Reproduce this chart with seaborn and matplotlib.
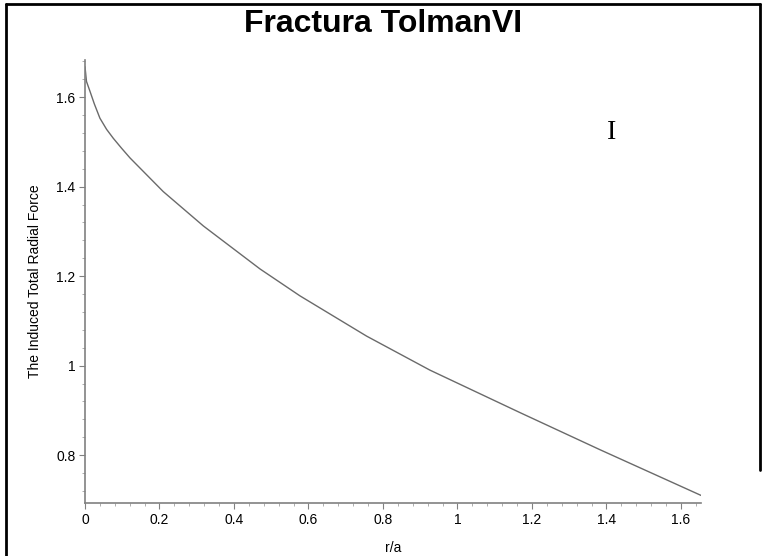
import matplotlib
matplotlib.use("Agg")
import matplotlib.pyplot as plt
import seaborn as sns
import pandas as pd
from matplotlib.ticker import MultipleLocator, FuncFormatter
from matplotlib.lines import Line2D

# Data
r_over_a = [0.0, 0.004, 0.0134, 0.025, 0.040, 0.058, 0.076, 0.098, 0.121, 0.21,
            0.318, 0.47, 0.577, 0.756, 0.926, 1.168, 1.383, 1.654]
force = [1.668, 1.635, 1.613, 1.585, 1.553, 1.528, 1.508, 1.486, 1.464, 1.389,
         1.312, 1.216, 1.156, 1.066, 0.990, 0.895, 0.812, 0.710]
x_ticks = [0, 0.2, 0.4, 0.6, 0.8, 1.0, 1.2, 1.4, 1.6]
y_ticks = [0.8, 1.0, 1.2, 1.4, 1.6]
title = "Fractura TolmanVI"
xlabel = "r/a"
ylabel = "The Induced Total Radial Force"
annotation = "I"

df = pd.DataFrame({"r/a": r_over_a, "force": force})

sns.set_theme(style="white")
plt.rcParams["font.family"] = ["Liberation Sans", "DejaVu Sans"]
plt.rcParams["text.color"] = "black"
plt.rcParams["axes.labelcolor"] = "black"

fig = plt.figure(figsize=(7.67, 5.56), dpi=100)
ax = fig.add_axes([85 / 767, 1 - 503 / 556, (701 - 85) / 767, (503 - 60) / 556])

sns.lineplot(data=df, x="r/a", y="force", ax=ax, color="#6a6a6a", linewidth=1.0)

ax.set_xlim(0, 1.654)
ax.set_ylim(0.693, 1.683)
ax.set_xticks(x_ticks)
ax.set_yticks(y_ticks)
fmt = FuncFormatter(lambda v, p: ("%g" % round(v, 2)))
ax.xaxis.set_major_formatter(fmt)
ax.yaxis.set_major_formatter(fmt)
ax.xaxis.set_minor_locator(MultipleLocator(0.04))
ax.yaxis.set_minor_locator(MultipleLocator(0.04))

for s in ["top", "right"]:
    ax.spines[s].set_visible(False)
for s in ["left", "bottom"]:
    ax.spines[s].set_color("#808080")
    ax.spines[s].set_linewidth(1.2)

ax.tick_params(which="major", direction="out", length=4, width=0.8, color="#808080",
               labelsize=10, labelcolor="black", bottom=True, left=True, pad=3)
ax.tick_params(which="minor", direction="out", length=2.5, width=0.6, color="#a0a0a0",
               bottom=True, left=True)

ax.set_xlabel(xlabel, fontsize=10, labelpad=10)
ax.set_ylabel(ylabel, fontsize=10, labelpad=10)

ax.text(1.415, 1.52, annotation, fontsize=20, family=["Liberation Serif", "DejaVu Serif"],
        ha="center", va="center", color="black")

fig.text(0.5, 1 - 24 / 556, title, fontsize=23, fontweight="bold", ha="center", va="center",
         color="black")

# frame around the figure
lw = 2.0
fig.add_artist(Line2D([6 / 767, 6 / 767], [0, 1 - 4 / 556], transform=fig.transFigure, color="black", lw=lw))
fig.add_artist(Line2D([6 / 767, 760 / 767], [1 - 4 / 556, 1 - 4 / 556], transform=fig.transFigure, color="black", lw=lw))
fig.add_artist(Line2D([760 / 767, 760 / 767], [1 - 4 / 556, 1 - 470 / 556], transform=fig.transFigure, color="black", lw=lw))

fig.savefig("out.png", dpi=100)
